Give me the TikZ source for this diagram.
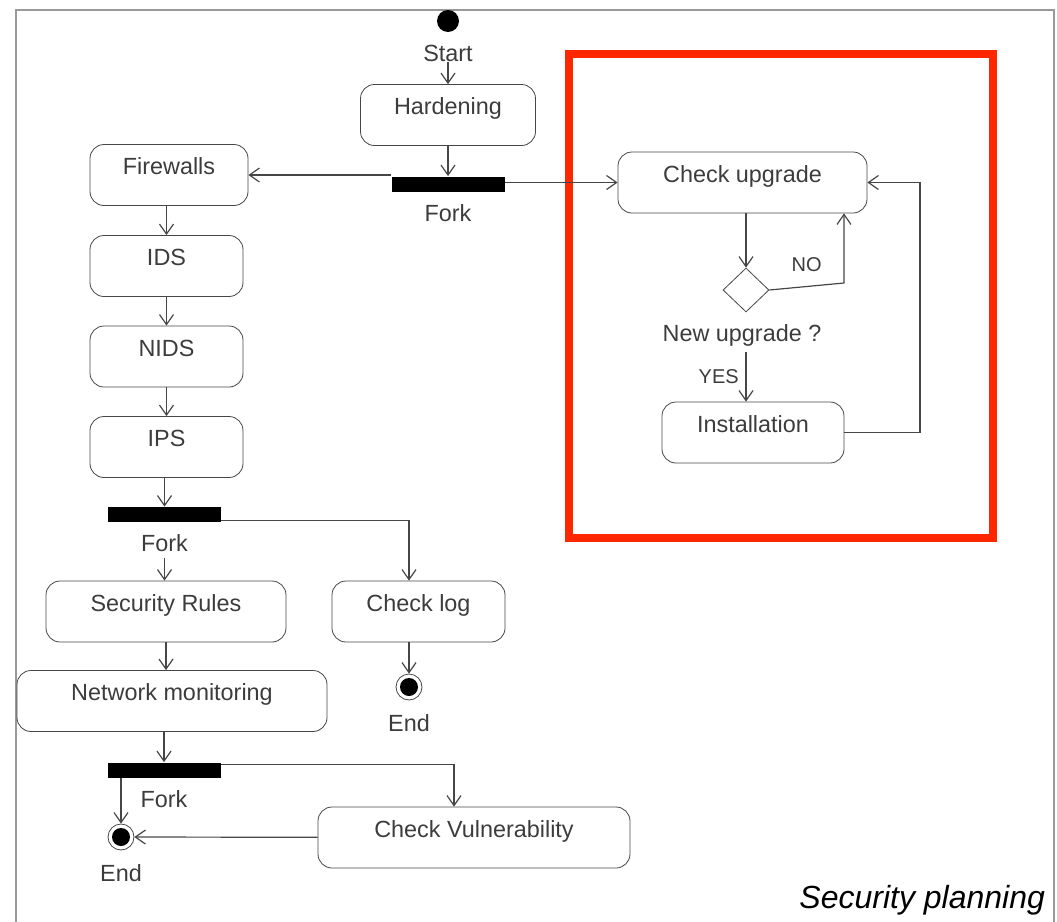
\documentclass[tikz,border=0pt]{standalone}
\usepackage{fontspec}
\setmainfont{Liberation Sans}
\usetikzlibrary{arrows.meta,positioning,shapes.geometric}
\definecolor{alertred}{RGB}{255,38,0}
\definecolor{linegray}{RGB}{70,70,70}
\definecolor{textgray}{RGB}{60,60,60}

\begin{document}
\begin{tikzpicture}[
    x=0.5pt, y=-0.5pt,
    font=\fontsize{11.7}{14}\selectfont,
    activity/.style={draw=linegray, rounded corners=7pt, align=center, text=textgray,
                     minimum height=30.5pt, text height=0.75em, text depth=0.8em},
    forkbar/.style={fill=black, minimum width=56.5pt, minimum height=7.5pt, inner sep=0pt},
    startpt/.style={circle, fill=black, minimum size=11pt, inner sep=0pt},
    endpt/.style={circle, draw=linegray, minimum size=13pt, inner sep=0pt,
                  path picture={\fill[black] (path picture bounding box.center) circle (4.5pt);}},
    choice/.style={diamond, draw=linegray, minimum width=23pt, minimum height=22pt, inner sep=0pt},
    lbl/.style={inner sep=0pt, text=textgray},
    guard/.style={font=\fontsize{10}{12}\selectfont, text=textgray},
    flow/.style={draw=linegray, line width=0.6pt, -{Straight Barb[length=5pt,width=7pt]}}
  ]
    \useasboundingbox (0,0) rectangle (1057,922);
    \draw[gray!80, line width=0.8pt] (16,922) -- (16,10) -- (1054,10) -- (1054,922);
    \draw[alertred, line width=4pt] (569,54) rectangle (992.5,537.5);

    % main branch
    \node[startpt] (start) at (448,21) {};
    \node[lbl, below=6pt of start] (startlbl) {Start};
    \node[activity, minimum width=87.5pt] (hard) at (448,115) {Hardening};
    \node[forkbar] (fork1) at (448,184) {};
    \node[lbl, below=6pt of fork1] (fork1lbl) {Fork};

    \node[activity, minimum width=79pt] (fw) at (169,175) {Firewalls};
    \node[activity, minimum width=76.5pt] (ids) at (166.5,266) {IDS};
    \node[activity, minimum width=76.5pt] (nids) at (166.5,356.5) {NIDS};
    \node[activity, minimum width=76.5pt] (ips) at (166.5,447) {IPS};
    \node[forkbar] (fork2) at (164.5,514.5) {};
    \node[lbl, below=6pt of fork2] (fork2lbl) {Fork};

    \node[activity, minimum width=120pt] (sec) at (166,611.5) {Security Rules};
    \node[activity, minimum width=86.5pt] (log) at (418.5,611.5) {Check log};
    \node[endpt] (end1) at (409,687) {};
    \node[lbl, below=7pt of end1] (end1lbl) {End};
    \node[activity, minimum width=155pt] (nm) at (172,701) {Network monitoring};
    \node[forkbar] (fork3) at (164,770) {};
    \node[lbl, below=6pt of fork3] (fork3lbl) {Fork};
    \node[endpt] (end2) at (121,837) {};
    \node[lbl, below=7pt of end2] (end2lbl) {End};
    \node[activity, minimum width=156pt] (vuln) at (474,837.5) {Check Vulnerability};

    % upgrade loop
    \node[activity, minimum width=124.5pt] (chk) at (742.5,182.5) {Check upgrade};
    \node[choice] (dia) at (746,290) {};
    \node[lbl, anchor=base] (newlbl) at (742,341) {New upgrade ?};
    \node[activity, minimum width=91pt] (inst) at (753,432.5) {Installation};
    \coordinate (nobend) at (844,283);
    \coordinate (retbend) at (920,300);

    \node[anchor=base east, font=\fontsize{16}{19}\selectfont\itshape] (title) at (1052,908) {Security planning};

    \draw[flow] (startlbl) -- (hard);
    \draw[flow] (hard) -- (fork1);
    \draw[flow] (fork1.west |- fw.east) -- (fw.east);
    \draw[flow] (fork1.east |- chk.west) -- (chk.west);
    \draw[flow] (fw.south -| ids) -- (ids);
    \draw[flow] (ids) -- (nids);
    \draw[flow] (nids) -- (ips);
    \draw[flow] (ips.south -| fork2) -- (fork2);
    \draw[flow] ([yshift=-3pt]fork2lbl.south) -- (fork2lbl.south |- sec.north);
    \draw[flow] ([yshift=1pt]fork2.south east) -| (end1 |- log.north);
    \draw[flow] (end1 |- log.south) -- (end1);
    \draw[flow] (sec) -- (sec |- nm.north);
    \draw[flow] (nm.south -| fork3) -- (fork3);
    \draw[flow] (fork3.south -| end2) -- (end2);
    \draw[flow] ([yshift=-1pt]fork3.north east) -| ([xshift=-10pt]vuln.north);
    \draw[flow] (vuln) -- (end2);

    \draw[flow] (chk.south -| dia) -- (dia);
    \draw[flow] (dia.east) -- node[guard, above=4pt]{NO} (nobend) -- (nobend |- chk.south);
    \draw[flow] ([yshift=-3pt]newlbl.south -| dia) -- node[guard, left]{YES} (dia |- inst.north);
    \draw[flow] (inst.east) -| (retbend) |- (chk.east);
\end{tikzpicture}
\end{document}
